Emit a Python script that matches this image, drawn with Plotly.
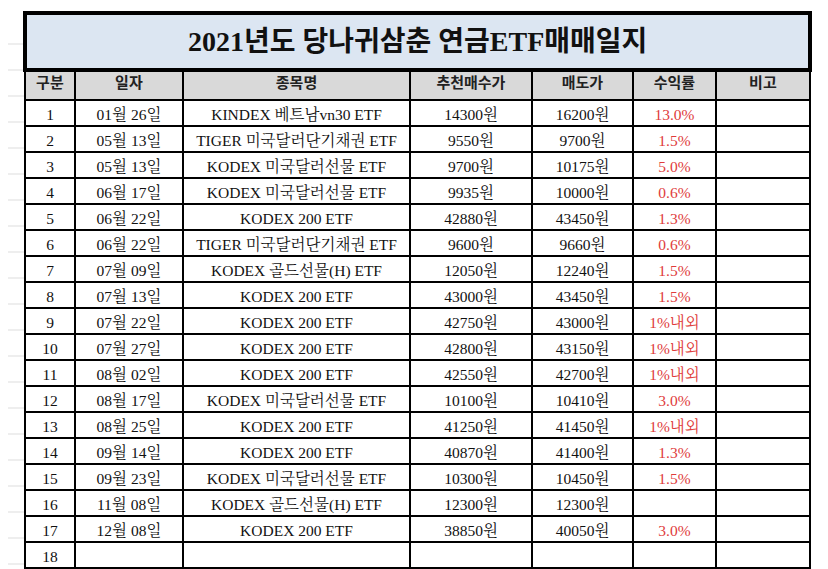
import plotly.graph_objects as go

title = "2021년도 당나귀삼춘 연금ETF매매일지"
headers = ["구분", "일자", "종목명", "추천매수가", "매도가", "수익률", "비고"]
nums = [str(i) for i in range(1, 19)]
dates = ["01월 26일", "05월 13일", "05월 13일", "06월 17일", "06월 22일", "06월 22일",
         "07월 09일", "07월 13일", "07월 22일", "07월 27일", "08월 02일", "08월 17일",
         "08월 25일", "09월 14일", "09월 23일", "11월 08일", "12월 08일", ""]
names = ["KINDEX 베트남vn30 ETF", "TIGER 미국달러단기채권 ETF", "KODEX 미국달러선물 ETF",
         "KODEX 미국달러선물 ETF", "KODEX 200 ETF", "TIGER 미국달러단기채권 ETF",
         "KODEX 골드선물(H) ETF", "KODEX 200 ETF", "KODEX 200 ETF", "KODEX 200 ETF",
         "KODEX 200 ETF", "KODEX 미국달러선물 ETF", "KODEX 200 ETF", "KODEX 200 ETF",
         "KODEX 미국달러선물 ETF", "KODEX 골드선물(H) ETF", "KODEX 200 ETF", ""]
buy = [14300, 9550, 9700, 9935, 42880, 9600, 12050, 43000, 42750, 42800, 42550,
       10100, 41250, 40870, 10300, 12300, 38850, None]
sell = [16200, 9700, 10175, 10000, 43450, 9660, 12240, 43450, 43000, 43150, 42700,
        10410, 41450, 41400, 10450, 12300, 40050, None]
returns = ["13.0%", "1.5%", "5.0%", "0.6%", "1.3%", "0.6%", "1.5%", "1.5%", "1%내외",
           "1%내외", "1%내외", "3.0%", "1%내외", "1.3%", "1.5%", "", "3.0%", ""]
notes = [""] * 18

col_px = [50, 108, 227, 122, 101, 83, 94]
W, H = 828, 569
off = 8  # page body margin
x0, x1 = 25 - off, 810 - off

won = lambda v: "" if v is None else f"{v}원"

fig = go.Figure()
fig.add_trace(go.Table(
    domain=dict(x=[x0 / W, x1 / W], y=[0, 1 - (70 - off - 7) / H]),
    columnwidth=col_px,
    header=dict(values=[f"<b>{h}</b>" for h in headers], height=30,
                fill_color="#d9d9d9", line=dict(color="black", width=2),
                font=dict(family="Noto Sans CJK KR", size=15, color="#222"),
                align="center"),
    cells=dict(values=[nums, dates, names, [won(v) for v in buy], [won(v) for v in sell],
                       returns, notes],
               height=26, fill_color="white", line=dict(color="black", width=2),
               font=dict(family="Liberation Serif, Noto Serif CJK KR, Noto Sans CJK KR",
                         size=15.5, color=["#111"] * 5 + ["#e03c3c", "#111"]),
               align="center"),
))

# spreadsheet gridlines on the left edge
for i in range(22):
    yy = 1 - (44 - off + 26 * i) / H
    fig.add_shape(type="line", xref="paper", yref="paper", x0=0, x1=x0 / W, y0=yy, y1=yy,
                  line=dict(color="#dddddd", width=1), layer="below")

# title box
fig.add_shape(type="rect", xref="paper", yref="paper", x0=x0 / W, x1=x1 / W,
              y0=1 - (70 - off) / H, y1=1 - (13 - off) / H, fillcolor="#dce6f2",
              line=dict(color="black", width=4))
fig.add_annotation(text=f"<b>{title}</b>", xref="paper", yref="paper",
                   x=(x0 + x1) / 2 / W, y=1 - (41 - off) / H, yanchor="middle",
                   xanchor="center", showarrow=False,
                   font=dict(family="Liberation Serif, Noto Sans CJK KR", size=28, color="#111"))

fig.update_layout(width=W, height=H, margin=dict(l=0, r=0, t=0, b=0),
                  paper_bgcolor="white", plot_bgcolor="white")
fig.write_html("out.html")
